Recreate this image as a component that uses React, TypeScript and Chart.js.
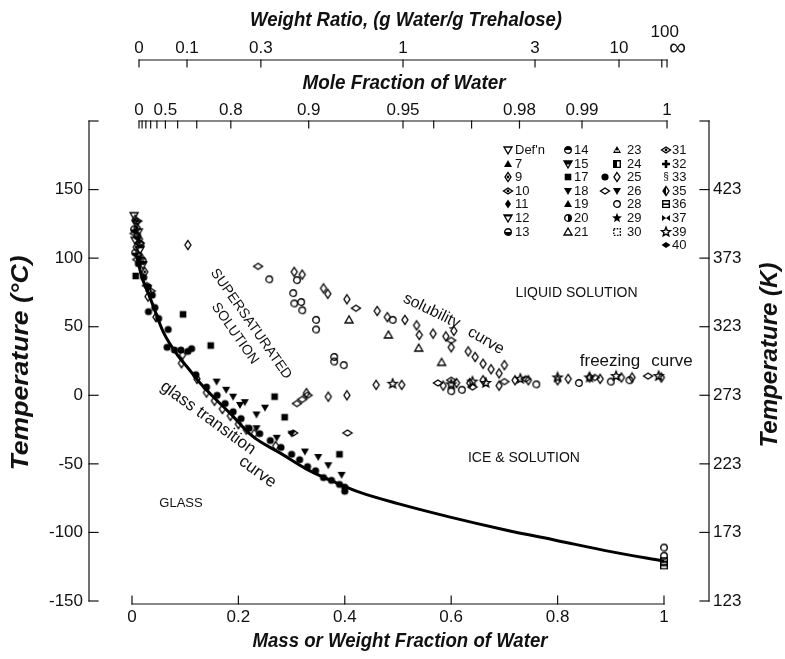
import React, { useEffect, useRef } from "react";
import { Chart, registerables } from "chart.js";

Chart.register(...registerables);

type Pt = [number, number];

// ---------- axis ticks ----------
const celsiusTicks = [-150, -100, -50, 0, 50, 100, 150];
const celsiusTickMarks = [-150, -100, -50, 0, 50, 100, 150, 200];
const kelvinTicks = [123, 173, 223, 273, 323, 373, 423];
const kelvinTickMarks = [123, 173, 223, 273, 323, 373, 423, 473];
const massTicks = [0, 0.2, 0.4, 0.6, 0.8, 1];
const massTickLabels = ["0", "0.2", "0.4", "0.6", "0.8", "1"];
const ratioTicks = [0, 0.1, 0.3, 1, 3, 10, 100, Infinity];
const ratioTickLabels = ["0", "0.1", "0.3", "1", "3", "10", "100", "\u221e"];
const moleTicks = [0, 0.1, 0.2, 0.3, 0.4, 0.5, 0.6, 0.7, 0.8, 0.9, 0.95, 0.96, 0.97, 0.98, 0.99, 1];
const moleLabelValues = [0, 0.5, 0.8, 0.9, 0.95, 0.98, 0.99, 1];
const moleLabelTexts = ["0", "0.5", "0.8", "0.9", "0.95", "0.98", "0.99", "1"];

const MW_WATER = 18.015;
const MW_TREHALOSE = 342.3;

// ---------- data (mass fraction of water, temperature °C) ----------
const glassCurve: Pt[] = [
  [0.01, 100], [0.018, 87], [0.03, 75], [0.04, 65], [0.059, 46], [0.087, 28.5], [0.103, 21],
  [0.128, 9], [0.155, -2], [0.184, -13], [0.227, -30], [0.278, -42], [0.329, -54], [0.385, -64],
  [0.43, -71], [0.5, -79], [0.6, -89], [0.7, -98], [0.8, -106], [0.9, -114], [1.0, -121],
];

const filledCircles: Pt[] = [
  [0.012, 96], [0.022, 86], [0.03, 79], [0.038, 73], [0.031, 61], [0.043, 64], [0.05, 56],
  [0.068, 48], [0.066, 35], [0.08, 33], [0.092, 33], [0.105, 32], [0.112, 34], [0.12, 15],
  [0.14, 6], [0.16, 0], [0.175, -6], [0.19, -12], [0.205, -17], [0.22, -24], [0.24, -28],
  [0.26, -33], [0.28, -38], [0.3, -43], [0.315, -47], [0.33, -52], [0.345, -55], [0.36, -60],
  [0.375, -62], [0.39, -65], [0.4, -70], [0.4, -67],
];

const openDownTriangles: Pt[] = [
  [0.004, 131], [0.008, 125], [0.012, 119], [0.006, 113], [0.015, 106], [0.02, 95],
];

const dottedDiamonds: Pt[] = [
  [0.006, 128], [0.01, 122], [0.014, 114], [0.008, 108], [0.018, 100], [0.024, 90],
];

const halfCircles: Pt[] = [
  [0.004, 121], [0.01, 116], [0.006, 104], [0.016, 110], [0.012, 102], [0.02, 98],
];

const wideDottedDiamonds: Pt[] = [
  [0.01, 127], [0.005, 118], [0.014, 111], [0.01, 99], [0.028, 80], [0.035, 76],
];

const curveDiamonds: Pt[] = [
  [0.03, 72], [0.045, 57], [0.093, 23.4], [0.095, 29.5], [0.122, 12], [0.14, 2], [0.155, -4],
  [0.17, -10], [0.185, -15], [0.2, -21], [0.215, -25], [0.23, -28], [0.27, -37],
];

const openDiamonds: Pt[] = [
  [0.105, 109.6], [0.305, 90], [0.32, 88], [0.36, 78], [0.368, 74], [0.404, 70], [0.461, 61.5],
  [0.48, 57], [0.513, 55], [0.535, 51], [0.54, 44], [0.566, 45], [0.59, 43], [0.605, 47],
  [0.6, 35], [0.632, 32], [0.645, 28], [0.66, 23], [0.675, 19], [0.69, 16], [0.7, 22],
  [0.328, 1.6], [0.369, -1], [0.404, 0], [0.459, 7.6], [0.507, 7.6], [0.585, 7], [0.61, 9],
  [0.635, 9], [0.66, 11], [0.69, 7], [0.72, 11], [0.745, 11], [0.8, 11], [0.82, 12],
  [0.86, 13], [0.88, 12], [0.92, 13], [0.94, 13], [0.995, 13],
];

const wideDiamonds: Pt[] = [
  [0.237, 94], [0.421, 63.5], [0.31, -6], [0.32, -3], [0.33, 0], [0.303, -27.5], [0.405, -27.5],
  [0.575, 9], [0.6, 11], [0.64, 6], [0.7, 10], [0.74, 12], [0.87, 13], [0.97, 14], [0.6, 40],
];

const openCircles: Pt[] = [
  [0.258, 84.6], [0.31, 84], [0.303, 74.5], [0.305, 67], [0.318, 68], [0.32, 62], [0.346, 55],
  [0.346, 48], [0.38, 28], [0.38, 24.6], [0.398, 22], [0.49, 55], [0.6, 3], [0.62, 4],
  [0.76, 8], [0.84, 9], [0.9, 10], [0.935, 11], [1.0, -111], [1.0, -117],
];

const openTriangles: Pt[] = [[0.408, 55], [0.482, 44], [0.539, 34.4], [0.582, 24]];

const filledSquares: Pt[] = [
  [0.007, 87], [0.096, 59], [0.148, 36.3], [0.268, -1], [0.287, -16], [0.39, -43],
];

const filledDownTriangles: Pt[] = [
  [0.159, 10], [0.177, 4], [0.203, -7], [0.212, -5], [0.234, -14], [0.234, -24], [0.272, -31],
  [0.325, -41], [0.369, -51], [0.394, -58], [0.19, -1], [0.25, -9], [0.3, -28], [0.35, -45],
];

const openStars: Pt[] = [
  [0.49, 8.4], [0.6, 8], [0.64, 10], [0.665, 9], [0.73, 12], [0.8, 13], [0.86, 13], [0.91, 14], [0.99, 14],
];

const lineSquares: Pt[] = [[1.0, -121], [1.0, -124]];

// ---------- legend (reference numbers) ----------
const legendColumns: { label: string; marks: string[] }[][] = [
  [
    { label: "Def'n", marks: ["triDown"] },
    { label: "7", marks: ["triUpF"] },
    { label: "9", marks: ["diamondDot"] },
    { label: "10", marks: ["wdiamondDot"] },
    { label: "11", marks: ["diamondF"] },
    { label: "12", marks: ["triDownBar"] },
    { label: "13", marks: ["halfCircleB"] },
  ],
  [
    { label: "14", marks: ["halfCircleT"] },
    { label: "15", marks: ["triDownHalf"] },
    { label: "17", marks: ["squareF"] },
    { label: "18", marks: ["triDownF"] },
    { label: "19", marks: ["triUpF"] },
    { label: "20", marks: ["halfCircleR"] },
    { label: "21", marks: ["triUp"] },
  ],
  [
    { label: "23", marks: ["triUpStripe"] },
    { label: "24", marks: ["squareHalf"] },
    { label: "25", marks: ["circleF", "diamond"] },
    { label: "26", marks: ["wdiamond", "triDownF"] },
    { label: "28", marks: ["circle"] },
    { label: "29", marks: ["starF"] },
    { label: "30", marks: ["squareDash"] },
  ],
  [
    { label: "31", marks: ["wdiamondDot"] },
    { label: "32", marks: ["plus"] },
    { label: "33", marks: ["sect"] },
    { label: "35", marks: ["diamondHalf"] },
    { label: "36", marks: ["squareLine"] },
    { label: "37", marks: ["bowtie"] },
    { label: "39", marks: ["star"] },
    { label: "40", marks: ["wdiamondF"] },
  ],
];

// ---------- region annotations (anchored in data coordinates) ----------
const annotations = [
  { text: "SUPERSATURATED", w: 0.2237, t: 52.0, rot: 55, size: 14 },
  { text: "SOLUTION", w: 0.1936, t: 45.0, rot: 55, size: 14 },
  { text: "glass transition", w: 0.1429, t: -16.5, rot: 36, size: 17 },
  { text: "curve", w: 0.2359, t: -55.9, rot: 36, size: 17 },
  { text: "GLASS", w: 0.0921, t: -79.2, rot: 0, size: 13 },
  { text: "ICE & SOLUTION", w: 0.7368, t: -45.7, rot: 0, size: 14 },
  { text: "LIQUID SOLUTION", w: 0.8355, t: 74.6, rot: 0, size: 14 },
  { text: "solubility", w: 0.5633, t: 61.5, rot: 26, size: 16 },
  { text: "curve", w: 0.6654, t: 39.7, rot: 30, size: 16 },
  { text: "freezing", w: 0.8985, t: 25, rot: 0, size: 17 },
  { text: "curve", w: 1.015, t: 25, rot: 0, size: 17 },
];

const INK = "#111";
const FAMILY = "'Liberation Sans', Arial, Helvetica, sans-serif";

function ratioToMass(r: number) {
  return isFinite(r) ? r / (1 + r) : 1;
}
function moleToMass(x: number) {
  if (x >= 1) return 1;
  const r = (x / (1 - x)) * (MW_WATER / MW_TREHALOSE);
  return r / (1 + r);
}

function makeMarker(kind: string): HTMLCanvasElement {
  const S = 14;
  const m = 7;
  const c = document.createElement("canvas");
  c.width = S;
  c.height = S;
  const g = c.getContext("2d") as CanvasRenderingContext2D;
  g.strokeStyle = "#000";
  g.fillStyle = "#000";
  g.lineWidth = 1.35;
  const path = (pts: number[][]) => {
    g.beginPath();
    pts.forEach(([x, y], i) => (i ? g.lineTo(m + x, m + y) : g.moveTo(m + x, m + y)));
    g.closePath();
  };
  const D = [[0, -4.5], [3, 0], [0, 4.5], [-3, 0]];
  const WD = [[0, -3], [4.5, 0], [0, 3], [-4.5, 0]];
  const TU = [[0, -4], [4, 3], [-4, 3]];
  const TD = [[0, 4], [4, -3], [-4, -3]];
  const SQ = [[-3.3, -3.3], [3.3, -3.3], [3.3, 3.3], [-3.3, 3.3]];
  const circ = (r: number) => {
    g.beginPath();
    g.arc(m, m, r, 0, Math.PI * 2);
  };
  const dot = () => {
    circ(1.4);
    g.fill();
  };
  const star = (ro: number, ri: number) => {
    const pts: number[][] = [];
    for (let i = 0; i < 10; i++) {
      const a = -Math.PI / 2 + (i * Math.PI) / 5;
      const r = i % 2 ? ri : ro;
      pts.push([r * Math.cos(a), r * Math.sin(a)]);
    }
    path(pts);
  };
  switch (kind) {
    case "diamond": path(D); g.stroke(); break;
    case "diamondF": path(D); g.fill(); break;
    case "diamondDot": path(D); g.stroke(); dot(); break;
    case "diamondHalf": path(D); g.stroke(); path([[0, -4.5], [0, 4.5], [-3, 0]]); g.fill(); break;
    case "wdiamond": path(WD); g.stroke(); break;
    case "wdiamondF": path(WD); g.fill(); break;
    case "wdiamondDot": path(WD); g.stroke(); dot(); break;
    case "circle": circ(3.3); g.stroke(); break;
    case "circleF": circ(3.6); g.fill(); break;
    case "halfCircleB":
      circ(3.3); g.stroke(); g.beginPath(); g.arc(m, m, 3.3, 0, Math.PI); g.closePath(); g.fill(); break;
    case "halfCircleT":
      circ(3.3); g.stroke(); g.beginPath(); g.arc(m, m, 3.3, Math.PI, Math.PI * 2); g.closePath(); g.fill(); break;
    case "halfCircleR":
      circ(3.3); g.stroke(); g.beginPath(); g.arc(m, m, 3.3, -Math.PI / 2, Math.PI / 2); g.closePath(); g.fill(); break;
    case "triUp": path(TU); g.stroke(); break;
    case "triUpF": path(TU); g.fill(); break;
    case "triUpStripe":
      path(TU); g.fill(); g.strokeStyle = "#fff"; g.beginPath(); g.moveTo(m - 2, m + 1); g.lineTo(m + 2, m + 1); g.stroke(); break;
    case "triDown": path(TD); g.stroke(); break;
    case "triDownF": path(TD); g.fill(); break;
    case "triDownBar":
      path(TD); g.stroke(); path([[-4, -3], [4, -3], [3.2, -1.4], [-3.2, -1.4]]); g.fill(); break;
    case "triDownHalf":
      path(TD); g.stroke(); path([[-4, -3], [4, -3], [2.2, 0.5], [-2.2, 0.5]]); g.fill(); break;
    case "square": path(SQ); g.stroke(); break;
    case "squareF": path(SQ); g.fill(); break;
    case "squareHalf": path(SQ); g.stroke(); g.fillRect(m - 3.3, m - 3.3, 3.3, 6.6); break;
    case "squareLine": path(SQ); g.stroke(); g.fillRect(m - 3.3, m - 0.6, 6.6, 1.6); break;
    case "squareDash": g.setLineDash([1.6, 1.4]); path(SQ); g.stroke(); break;
    case "star": star(4.8, 2.1); g.stroke(); break;
    case "starF": star(5.2, 2.2); g.fill(); break;
    case "plus": g.fillRect(m - 1.3, m - 4, 2.6, 8); g.fillRect(m - 4, m - 1.3, 8, 2.6); break;
    case "bowtie": path([[-4, -3], [4, 3], [4, -3], [-4, 3]]); g.fill(); break;
    case "sect":
      g.font = `10px ${FAMILY}`; g.textAlign = "center"; g.textBaseline = "middle"; g.fillText("\u00a7", m, m + 0.5); break;
    default: circ(3.3); g.stroke();
  }
  return c;
}

function drawFitText(
  ctx: CanvasRenderingContext2D, text: string, cx: number, cy: number, font: string,
  targetW: number | null, rot = 0, align: CanvasTextAlign = "center",
) {
  ctx.save();
  ctx.font = font;
  const w = ctx.measureText(text).width;
  ctx.translate(cx, cy);
  ctx.rotate(rot);
  if (targetW) ctx.scale(targetW / w, 1);
  ctx.textAlign = align;
  ctx.textBaseline = "middle";
  ctx.fillStyle = INK;
  ctx.fillText(text, 0, 0);
  ctx.restore();
}

export default function App() {
  const ref = useRef<HTMLCanvasElement | null>(null);

  useEffect(() => {
    if (!ref.current) return;
    const markerCache: Record<string, HTMLCanvasElement> = {};
    const mk = (k: string) => (markerCache[k] = markerCache[k] || makeMarker(k));

    const toXY = (pts: Pt[]) => pts.map(([x, y]) => ({ x, y }));
    const scatter = (label: string, pts: Pt[], kind: string) => ({
      type: "scatter" as const,
      label,
      data: toXY(pts),
      pointStyle: mk(kind),
      pointRadius: 5,
      borderColor: "#000",
      backgroundColor: "#000",
    });

    const datasets: any[] = [
      {
        type: "line",
        label: "glass transition curve",
        data: toXY(glassCurve),
        borderColor: "#000",
        borderWidth: 3,
        pointRadius: 0,
        cubicInterpolationMode: "monotone",
        fill: false,
      },
      scatter("25", filledCircles, "circleF"),
      scatter("Def'n", openDownTriangles, "triDown"),
      scatter("9", dottedDiamonds, "diamondDot"),
      scatter("13", halfCircles, "halfCircleB"),
      scatter("10", wideDottedDiamonds, "wdiamondDot"),
      scatter("35", curveDiamonds, "diamond"),
      scatter("25 ", openDiamonds, "diamond"),
      scatter("26", wideDiamonds, "wdiamond"),
      scatter("28", openCircles, "circle"),
      scatter("21", openTriangles, "triUp"),
      scatter("17", filledSquares, "squareF"),
      scatter("18", filledDownTriangles, "triDownF"),
      scatter("39", openStars, "star"),
      scatter("36", lineSquares, "squareLine"),
    ];

    const tickFont = { family: FAMILY, size: 17 };

    const decor = {
      id: "decor",
      afterDraw(chart: any) {
        const ctx: CanvasRenderingContext2D = chart.ctx;
        const ca = chart.chartArea;
        const sx = chart.scales.x;
        const st = chart.scales.xt;
        const sy = chart.scales.y;
        const sy2 = chart.scales.y2;
        const seg = (x1: number, y1: number, x2: number, y2: number) => {
          ctx.beginPath();
          ctx.moveTo(x1, y1);
          ctx.lineTo(x2, y2);
          ctx.stroke();
        };
        ctx.save();
        ctx.strokeStyle = INK;
        ctx.lineWidth = 1.2;
        ctx.lineCap = "square";

        // left (°C) axis
        const lx = ca.left;
        seg(lx, sy.getPixelForValue(200), lx, sy.getPixelForValue(-150));
        celsiusTickMarks.forEach((v) => {
          const y = sy.getPixelForValue(v);
          seg(lx, y, lx + 9, y);
        });
        // right (K) axis
        const rx = ca.right;
        seg(rx, sy2.getPixelForValue(473), rx, sy2.getPixelForValue(123));
        kelvinTickMarks.forEach((v) => {
          const y = sy2.getPixelForValue(v);
          seg(rx, y, rx - 9, y);
        });
        // bottom (mass fraction) axis
        const by = ca.bottom + 3;
        seg(sx.getPixelForValue(0), by, sx.getPixelForValue(1), by);
        massTicks.forEach((v) => {
          const x = sx.getPixelForValue(v);
          seg(x, by, x, by - 8);
        });

        // top: weight ratio axis
        const ry = 60;
        seg(st.getPixelForValue(0), ry, st.getPixelForValue(1), ry);
        ctx.fillStyle = INK;
        ctx.font = `17px ${FAMILY}`;
        ctx.textBaseline = "middle";
        ratioTicks.forEach((r, i) => {
          const x = st.getPixelForValue(ratioToMass(r));
          seg(x, ry, x, ry + 7);
          const lab = ratioTickLabels[i];
          if (lab === "100") {
            ctx.textAlign = "center";
            ctx.fillText(lab, x + 3, ry - 28);
          } else if (lab === "\u221e") {
            ctx.textAlign = "left";
            ctx.font = `24px ${FAMILY}`;
            ctx.fillText(lab, x + 2, ry - 12);
            ctx.font = `17px ${FAMILY}`;
          } else {
            ctx.textAlign = "center";
            ctx.fillText(lab, x, ry - 12);
          }
        });

        // top: mole fraction axis
        const my = ca.top;
        seg(st.getPixelForValue(0), my, st.getPixelForValue(1), my);
        moleTicks.forEach((v) => {
          const x = st.getPixelForValue(moleToMass(v));
          seg(x, my, x, my + 7);
        });
        ctx.textAlign = "center";
        moleLabelValues.forEach((v, i) => {
          const x = st.getPixelForValue(moleToMass(v));
          ctx.fillText(moleLabelTexts[i], x, my - 11);
        });

        // axis titles
        const titleFont = `italic bold 21px ${FAMILY}`;
        drawFitText(ctx, "Weight Ratio, (g Water/g Trehalose)", 406, 20, titleFont, 312);
        drawFitText(ctx, "Mole Fraction of Water", 404, 83, titleFont, 203);
        drawFitText(ctx, "Mass or Weight Fraction of Water", 400, 641, titleFont, 295);
        drawFitText(ctx, "Temperature (\u00b0C)", 22, 363, `italic bold 23px ${FAMILY}`, 215, -Math.PI / 2);
        drawFitText(ctx, "Temperature (K)", 771, 355, `italic bold 23px ${FAMILY}`, 185, -Math.PI / 2);

        // legend table
        const symX = [508, 568, 617, 666];
        const txtX = [515, 574, 627, 672];
        ctx.font = `13px ${FAMILY}`;
        ctx.textAlign = "left";
        ctx.textBaseline = "middle";
        legendColumns.forEach((col, ci) => {
          col.forEach((item, ri) => {
            const y = 150 + ri * 13.6;
            const n = item.marks.length;
            item.marks.forEach((k, mi) => {
              const img = mk(k);
              const x = symX[ci] - (n - 1 - mi) * 12;
              ctx.drawImage(img, Math.round(x - img.width / 2), Math.round(y - img.height / 2));
            });
            ctx.fillText(item.label, txtX[ci], y + 0.5);
          });
        });

        // region annotations
        annotations.forEach((a) => {
          drawFitText(
            ctx, a.text, sx.getPixelForValue(a.w), sy.getPixelForValue(a.t),
            `${a.size}px ${FAMILY}`, null, (a.rot * Math.PI) / 180,
          );
        });
        ctx.restore();
      },
    };

    const chart = new Chart(ref.current, {
      type: "scatter",
      data: { datasets },
      options: {
        responsive: true,
        maintainAspectRatio: false,
        animation: false,
        events: [],
        layout: { padding: { top: 121, left: 0, right: 0, bottom: 0 } },
        plugins: {
          legend: { display: false },
          tooltip: { enabled: false },
          title: { display: false },
        },
        scales: {
          x: {
            type: "linear",
            position: "bottom",
            min: -0.0808,
            max: 1.0846,
            grid: { display: false, drawTicks: false },
            border: { display: false },
            ticks: {
              padding: 6,
              font: tickFont,
              color: INK,
              autoSkip: false,
              maxRotation: 0,
              callback: (v: any) => {
                const i = massTicks.indexOf(Number(v));
                return i >= 0 ? massTickLabels[i] : "";
              },
            },
            afterBuildTicks: (s: any) => {
              s.ticks = massTicks.map((value) => ({ value }));
            },
            afterFit: (s: any) => {
              s.height = 58;
            },
          },
          xt: {
            type: "linear",
            position: "top",
            display: false,
            min: -0.0947,
            max: 1.0795,
          },
          y: {
            type: "linear",
            position: "left",
            min: -150,
            max: 200,
            grid: { display: false, drawTicks: false },
            border: { display: false },
            ticks: {
              padding: 6,
              font: tickFont,
              color: INK,
              autoSkip: false,
              callback: (v: any) => String(v),
            },
            afterBuildTicks: (s: any) => {
              s.ticks = celsiusTicks.map((value) => ({ value }));
            },
            afterFit: (s: any) => {
              s.width = 89;
            },
          },
          y2: {
            type: "linear",
            position: "right",
            min: 123,
            max: 473,
            grid: { display: false, drawTicks: false },
            border: { display: false },
            ticks: {
              padding: 4,
              font: tickFont,
              color: INK,
              autoSkip: false,
              callback: (v: any) => String(v),
            },
            afterBuildTicks: (s: any) => {
              s.ticks = kelvinTicks.map((value) => ({ value }));
            },
            afterFit: (s: any) => {
              s.width = 76;
            },
          },
        },
      } as any,
      plugins: [decor],
    });
    return () => chart.destroy();
  }, []);

  return (
    <div style={{ position: "fixed", left: 0, top: 0, width: 785, height: 659, background: "#fff" }}>
      <canvas ref={ref} />
    </div>
  );
}
